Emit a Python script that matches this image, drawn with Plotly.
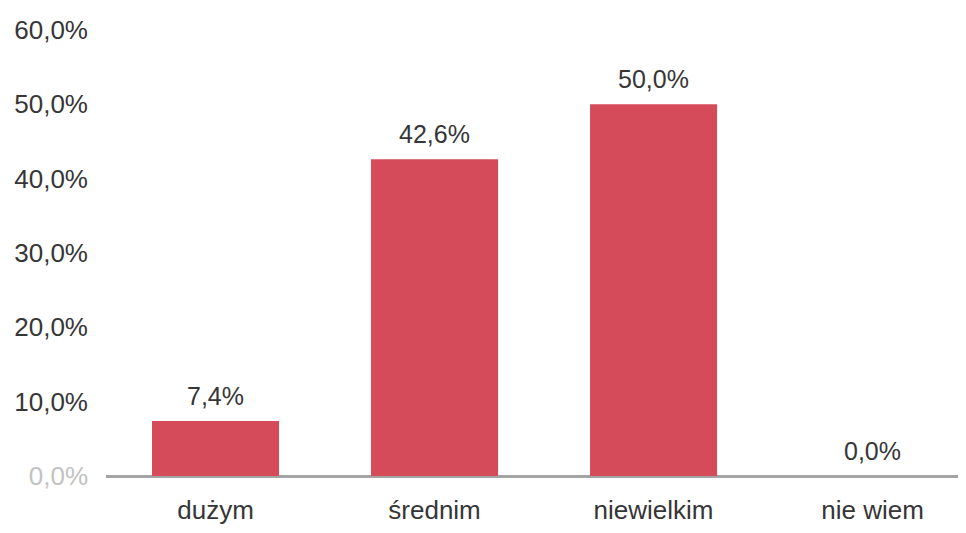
import plotly.graph_objects as go

categories = ["dużym", "średnim", "niewielkim", "nie wiem"]
values = [7.4, 42.6, 50.0, 0.0]
tick_values = [0, 10, 20, 30, 40, 50, 60]
tick_labels = ['<span style="color:#c2c2c2">0,0%</span>', "10,0%", "20,0%", "30,0%", "40,0%", "50,0%", "60,0%"]

TEXT = "#363636"
FONT = "Liberation Sans, Arial, sans-serif"

fig = go.Figure(
    go.Bar(
        x=categories,
        y=values,
        marker=dict(color="#D64B5A", line=dict(width=0)),
        hoverinfo="x+y",
    )
)

for c, v in zip(categories, values):
    fig.add_annotation(
        x=c, y=v, text=f"{v:.1f}%".replace(".", ","),
        showarrow=False, yanchor="bottom", yshift=9,
        font=dict(size=25, color=TEXT, family=FONT),
    )

fig.update_layout(
    width=966,
    height=533,
    margin=dict(l=98, r=0, t=22, b=65),
    paper_bgcolor="white",
    plot_bgcolor="white",
    separators=",.",
    bargap=0.42,
    showlegend=False,
    font=dict(family=FONT, color=TEXT),
)
fig.update_xaxes(
    range=[-0.5, 3.463],
    showline=False,
    showgrid=False,
    ticks="",
    tickfont=dict(size=26, color=TEXT),
    ticklabelstandoff=16,
)
fig.update_yaxes(
    range=[0, 60],
    tickvals=tick_values,
    ticktext=tick_labels,
    showgrid=False,
    zeroline=True,
    zerolinecolor="#a4a4a4",
    zerolinewidth=2.5,
    showline=False,
    ticks="",
    tickfont=dict(size=26, color=TEXT),
    ticklabelstandoff=17,
)

fig.write_html("out.html")
